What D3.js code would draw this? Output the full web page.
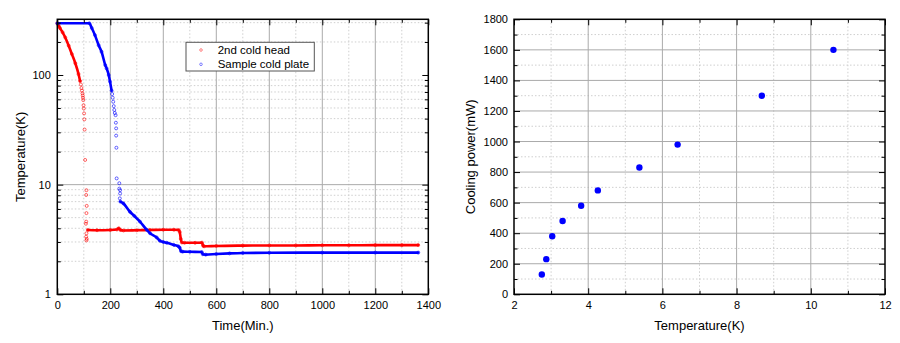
<!DOCTYPE html>
<html>
<head>
<meta charset="utf-8">
<script src="https://cdn.jsdelivr.net/npm/d3@7"></script>
<style>
  body { margin: 0; background: #fff; }
  svg text { font-family: "Liberation Sans", Arial, sans-serif; fill: #000; }
</style>
</head>
<body>
<svg id="chart" width="900" height="343"></svg>
<script>
// ---- Cooldown log: [time (min), temperature (K)] ----
const coldHeadCooldown = [
  [0, 296], [5, 282], [10, 268], [20, 245], [30, 220], [43, 185], [55, 155],
  [68, 128], [80, 102], [86, 88]
];
const coldHeadDrop = [
  [89, 82], [91, 76], [93, 72], [95, 68], [96, 65], [97, 62], [98, 59], [99, 53],
  [100, 49.5], [101, 44.6], [102, 39.4], [103, 31.8],
  [105, 16.8], [110, 8.9], [109, 8.05], [111, 6.4], [110, 5.5], [109, 4.6],
  [108, 4.4], [110, 3.6], [109, 3.35], [110, 3.1], [111, 3.2]
];
const coldHeadSteady = [
  [115, 3.86], [150, 3.84], [200, 3.86], [225, 3.9], [232, 4.0], [238, 3.86],
  [250, 3.82], [300, 3.84], [350, 3.86], [400, 3.88], [440, 3.88], [458, 3.86],
  [462, 3.7], [466, 3.2], [470, 2.97], [480, 2.95], [520, 2.95], [546, 2.96],
  [550, 2.78], [554, 2.74], [600, 2.76], [700, 2.78], [800, 2.79], [900, 2.79],
  [1000, 2.8], [1100, 2.8], [1200, 2.81], [1300, 2.81], [1362, 2.81]
];
const plateCooldown = [
  [0, 296], [121, 296], [130, 268], [142, 231], [156, 187], [167, 163],
  [181, 123], [186, 115], [194, 100], [199, 87], [205, 72]
];
const plateDrop = [
  [207, 67], [209, 62], [211, 57], [213, 52], [215, 48], [217, 45], [220, 43],
  [221, 36.7], [222, 32.6], [222, 28], [223, 21.7], [224, 11.4], [234, 10.3],
  [234, 9.2], [237, 8.9], [237, 8.3], [236, 7.5]
];
const plateSteady = [
  [238, 7.0], [249, 6.75], [274, 5.66], [290, 5.2], [312, 4.6], [337, 3.88],
  [350, 3.6], [375, 3.3], [387, 3.08], [400, 3.0], [413, 2.95], [440, 2.82],
  [457, 2.74], [462, 2.66], [467, 2.47], [473, 2.45], [500, 2.44], [545, 2.43],
  [549, 2.32], [560, 2.30], [600, 2.33], [650, 2.36], [700, 2.38], [800, 2.39],
  [1000, 2.4], [1200, 2.4], [1362, 2.4]
];
const seriesNames = ["2nd cold head", "Sample cold plate"];

const timeTicks = [0, 200, 400, 600, 800, 1000, 1200, 1400];
const tempLogTicks = [1, 10, 100];

// ---- Cooling power vs temperature ----
const loadTemps = [2.75, 2.87, 3.03, 3.31, 3.81, 4.26, 5.38, 6.41, 8.68, 10.61];
const coolingPower = [130, 230, 380, 480, 580, 680, 830, 980, 1300, 1600];
const tempTicks = [2, 4, 6, 8, 10, 12];
const powerTicks = [0, 200, 400, 600, 800, 1000, 1200, 1400, 1600, 1800];

const RED = "#ff0000", BLUE = "#0000ff";
const svg = d3.select("#chart");

// Draws grid, inward ticks on all four sides, labels and the frame for one panel.
function panel(x, y, opts) {
  const [x0, x1] = x.range();
  const [yb, yt] = y.range();
  const g = svg.append("g");

  const grid = g.append("g");
  grid.selectAll(".vmin").data(opts.xMinor).join("line")
    .attr("x1", d => x(d)).attr("x2", d => x(d)).attr("y1", yt).attr("y2", yb)
    .attr("stroke", "#cfcfcf").attr("stroke-dasharray", "1.5,2");
  grid.selectAll(".hmin").data(opts.yMinor).join("line")
    .attr("y1", d => y(d)).attr("y2", d => y(d)).attr("x1", x0).attr("x2", x1)
    .attr("stroke", "#cfcfcf").attr("stroke-dasharray", "1.5,2");
  grid.selectAll(".vmaj").data(opts.xMajor.slice(1, -1)).join("line")
    .attr("x1", d => x(d)).attr("x2", d => x(d)).attr("y1", yt).attr("y2", yb)
    .attr("stroke", "#aaaaaa");
  grid.selectAll(".hmaj").data(opts.yMajor.slice(1, -1)).join("line")
    .attr("y1", d => y(d)).attr("y2", d => y(d)).attr("x1", x0).attr("x2", x1)
    .attr("stroke", "#aaaaaa");

  const dataLayer = g.append("g");

  const axes = g.append("g");
  const style = sel => {
    sel.select(".domain").remove();
    sel.selectAll("line").attr("stroke", "#000").attr("stroke-width", 1);
    sel.selectAll("text").attr("font-size", 11).attr("fill", "#000")
      .attr("font-family", "Liberation Sans, Arial, sans-serif");
  };
  // bottom
  axes.append("g").attr("transform", `translate(0,${yb})`)
    .call(d3.axisBottom(x).tickValues(opts.xMajor).tickSize(-6).tickPadding(6.5)
      .tickFormat(opts.xFormat)).call(style);
  axes.append("g").attr("transform", `translate(0,${yb})`)
    .call(d3.axisBottom(x).tickValues(opts.xMinor).tickSize(-3.5).tickFormat("")).call(style);
  // top
  axes.append("g").attr("transform", `translate(0,${yt})`)
    .call(d3.axisTop(x).tickValues(opts.xMajor).tickSize(-6).tickFormat("")).call(style);
  axes.append("g").attr("transform", `translate(0,${yt})`)
    .call(d3.axisTop(x).tickValues(opts.xMinor).tickSize(-3.5).tickFormat("")).call(style);
  // left
  axes.append("g").attr("transform", `translate(${x0},0)`)
    .call(d3.axisLeft(y).tickValues(opts.yMajor).tickSize(-6).tickPadding(opts.yPad)
      .tickFormat(opts.yFormat)).call(style);
  axes.append("g").attr("transform", `translate(${x0},0)`)
    .call(d3.axisLeft(y).tickValues(opts.yMinor).tickSize(-3.5).tickFormat("")).call(style);
  // right
  axes.append("g").attr("transform", `translate(${x1},0)`)
    .call(d3.axisRight(y).tickValues(opts.yMajor).tickSize(-6).tickFormat("")).call(style);
  axes.append("g").attr("transform", `translate(${x1},0)`)
    .call(d3.axisRight(y).tickValues(opts.yMinor).tickSize(-3.5).tickFormat("")).call(style);

  g.append("rect").attr("x", x0).attr("y", yt).attr("width", x1 - x0).attr("height", yb - yt)
    .attr("fill", "none").attr("stroke", "#000").attr("stroke-width", 1.5);

  g.append("text").attr("x", (x0 + x1) / 2).attr("y", opts.xTitleY)
    .attr("text-anchor", "middle").attr("dominant-baseline", "central")
    .attr("font-size", 13).text(opts.xTitle);
  g.append("text")
    .attr("transform", `translate(${opts.yTitleX},${(yt + yb) / 2}) rotate(-90)`)
    .attr("text-anchor", "middle").attr("dominant-baseline", "central")
    .attr("font-size", 13).text(opts.yTitle);

  return dataLayer;
}

// ---------- Left panel: temperature history ----------
const xT = d3.scaleLinear().domain([0, 1400]).range([57.3, 428.3]);
const yT = d3.scaleLog().domain([1, 322]).range([294.3, 19.3]);

const logMinor = [];
[1, 10, 100].forEach(dec => d3.range(2, 10).forEach(m => {
  if (m * dec <= 322) logMinor.push(m * dec);
}));

const left = panel(xT, yT, {
  xMajor: timeTicks,
  xMinor: d3.range(100, 1400, 200),
  yMajor: tempLogTicks,
  yMinor: logMinor,
  xFormat: d3.format("d"),
  yFormat: d3.format("d"),
  yPad: 6.5,
  xTitle: "Time(Min.)", xTitleY: 325,
  yTitle: "Temperature(K)", yTitleX: 20
});

const line = d3.line().curve(d3.curveMonotoneX).x(d => xT(d[0])).y(d => yT(d[1]));
function trace(color, parts, drop) {
  parts.forEach(p => left.append("path").attr("d", line(p))
    .attr("fill", "none").attr("stroke", color).attr("stroke-width", 2.6)
    .attr("stroke-linejoin", "round").attr("stroke-linecap", "round"));
  left.append("g").selectAll("circle").data(parts.flat().concat(drop)).join("circle")
    .attr("cx", d => xT(d[0])).attr("cy", d => yT(d[1])).attr("r", 1.5)
    .attr("fill", "none").attr("stroke", color).attr("stroke-width", 0.8)
    .attr("stroke-opacity", 0.75);
}
trace(RED, [coldHeadCooldown, coldHeadSteady], coldHeadDrop);
trace(BLUE, [plateCooldown, plateSteady], plateDrop);

// legend
const lg = svg.append("g");
lg.append("rect").attr("x", 186).attr("y", 42.3).attr("width", 128.3).attr("height", 28.7)
  .attr("fill", "#fff").attr("stroke", "#555").attr("stroke-width", 1);
[RED, BLUE].forEach((c, i) => {
  const cy = 50 + i * 14.3;
  lg.append("circle").attr("cx", 201).attr("cy", cy).attr("r", 1.3)
    .attr("fill", "none").attr("stroke", c).attr("stroke-width", 0.8).attr("stroke-opacity", 0.6);
  lg.append("text").attr("x", 217.7).attr("y", cy).attr("dominant-baseline", "central")
    .attr("font-size", 11.5).text(seriesNames[i]);
});

// ---------- Right panel: cooling power ----------
const xP = d3.scaleLinear().domain([2, 12]).range([514, 885]);
const yP = d3.scaleLinear().domain([0, 1800]).range([294.3, 19.3]);

const right = panel(xP, yP, {
  xMajor: tempTicks,
  xMinor: d3.range(3, 12, 2),
  yMajor: powerTicks,
  yMinor: d3.range(100, 1800, 200),
  xFormat: d3.format("d"),
  yFormat: d3.format("d"),
  yPad: 6,
  xTitle: "Temperature(K)", xTitleY: 325.7,
  yTitle: "Cooling power(mW)", yTitleX: 470.7
});

right.selectAll("circle").data(d3.zip(loadTemps, coolingPower)).join("circle")
  .attr("cx", d => xP(d[0])).attr("cy", d => yP(d[1])).attr("r", 3.2)
  .attr("fill", BLUE);
</script>
</body>
</html>
